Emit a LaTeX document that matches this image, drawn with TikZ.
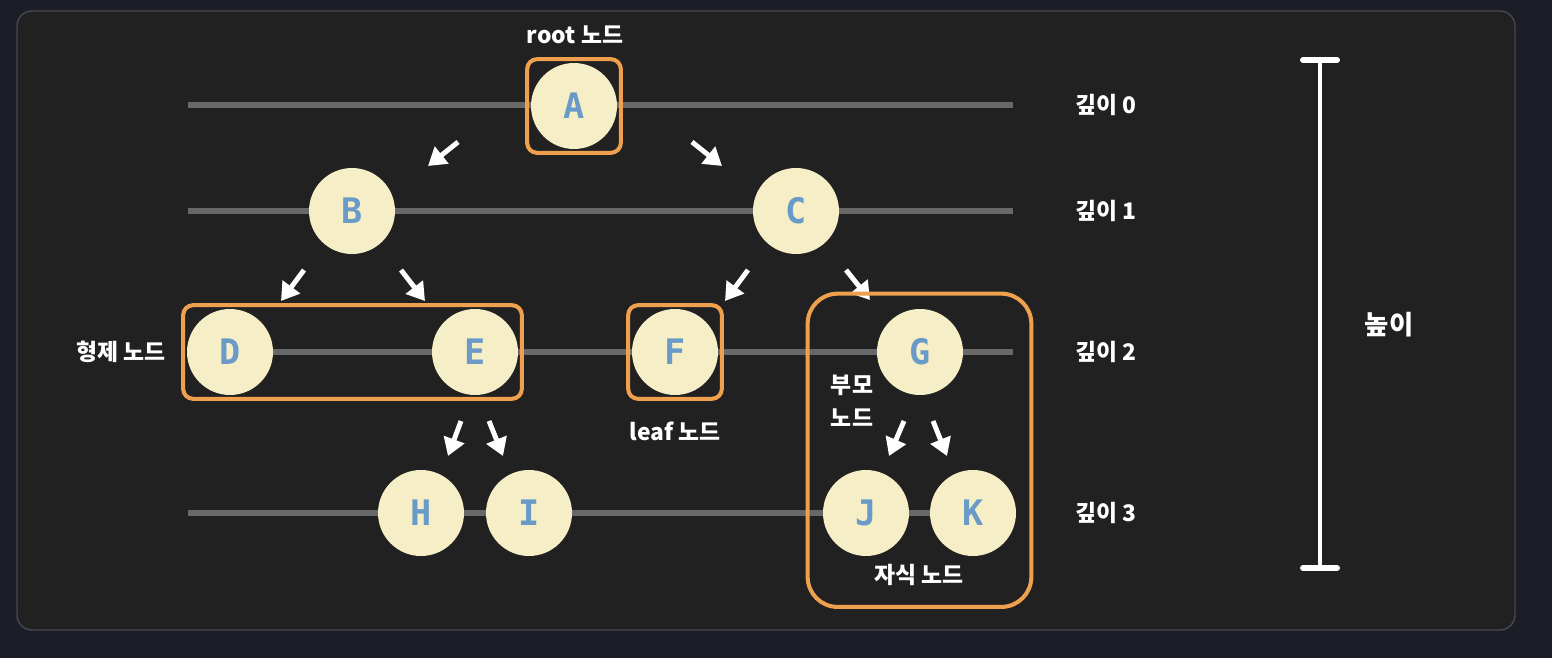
\documentclass[tikz,border=0pt]{standalone}
\usepackage{fontspec}
\setmainfont{Noto Sans CJK KR}
\newfontfamily\letterfont{DejaVu Sans Mono}
\usetikzlibrary{arrows.meta,fit}

\definecolor{pagebg}{HTML}{1B1D27}
\definecolor{panelbg}{HTML}{212121}
\definecolor{panelrim}{HTML}{464856}
\definecolor{levelgray}{HTML}{686868}
\definecolor{nodefill}{HTML}{F5EEC6}
\definecolor{nodetext}{HTML}{6A9BC8}
\definecolor{hilite}{HTML}{EFA04F}

\tikzset{
  treenode/.style={circle,fill=nodefill,minimum size=1.72cm,inner sep=0pt,
    text=nodetext,font=\letterfont\bfseries\fontsize{20}{24}\selectfont},
  tag/.style={text=white,align=center,font=\bfseries\fontsize{13}{18.5}\selectfont},
  levelline/.style={levelgray,line width=3.4pt},
  groupbox/.style={draw=hilite,line width=2.3pt,rounded corners=0.2cm,inner sep=0.07cm},
  childarrow/.style={white,line width=2.8pt,-{Triangle[length=10pt,width=12pt]}}
}

\begin{document}
\begin{tikzpicture}[x=0.02cm,y=-0.02cm]
  \useasboundingbox (0,0) rectangle (1552,658);
  \fill[pagebg] (0,0) rectangle (1552,658);
  \filldraw[fill=panelbg,draw=panelrim,line width=0.8pt,rounded corners=0.3cm]
    (17,11) rectangle (1515,630);
  % depth levels
  \foreach \y/\d in {105/0,211/1,352/2,513/3}{
    \draw[levelline] (188,\y) -- (1013,\y);
    \node[tag] (depth\d) at (1106,\y) {깊이 \d};
  }
  % parent -> child arrows
  \foreach \sx/\sy/\ex/\ey in {458/142/428/166, 692/142/722/166,
                               304/270/281/301, 401/270/425/301,
                               748/270/725/301, 846/270/870/300,
                               461/421/448/456, 489/421/503/456,
                               904/421/889/456, 933/421/947/456}
    \draw[childarrow] (\sx,\sy) -- (\ex,\ey);
  % nodes
  \foreach \n/\x/\y in {A/574/106, B/352/211, C/796/211,
                        D/230/352, E/475/352, F/675/352, G/920/352,
                        H/421/513, I/529/513, J/866/513, K/973/513}
    \node[treenode] (\n) at (\x,\y) {\n};
  % labels
  \node[tag] (rootlbl) at (575,35) {root 노드};
  \node[tag] (siblbl) at (121,352) {형제 노드};
  \node[tag] (leaflbl) at (675,431) {leaf 노드};
  \node[tag] (parentlbl) at (852,401) {부모\\노드};
  \node[tag] (childlbl) at (919,575) {자식 노드};
  % highlight boxes
  \node[groupbox,fit=(A)] (rootbox) {};
  \node[groupbox,fit=(D)(E)] (sibbox) {};
  \node[groupbox,fit=(F)] (leafbox) {};
  \node[groupbox,fit=(G)(J)(K)(childlbl),inner sep=0.3cm,rounded corners=0.6cm] (famBox) {};
  % height bar
  \coordinate (htop) at (1320,60);
  \coordinate (hbot) at (1320,568);
  \draw[white,line width=2.8pt] (htop) -- (hbot);
  \draw[white,line width=3.4pt,line cap=round] ([xshift=-0.34cm]htop) -- ([xshift=0.34cm]htop);
  \draw[white,line width=3.4pt,line cap=round] ([xshift=-0.34cm]hbot) -- ([xshift=0.34cm]hbot);
  \node[tag,font=\bfseries\fontsize{15}{18}\selectfont] (heightlbl) at (1389,325) {높이};
\end{tikzpicture}
\end{document}
